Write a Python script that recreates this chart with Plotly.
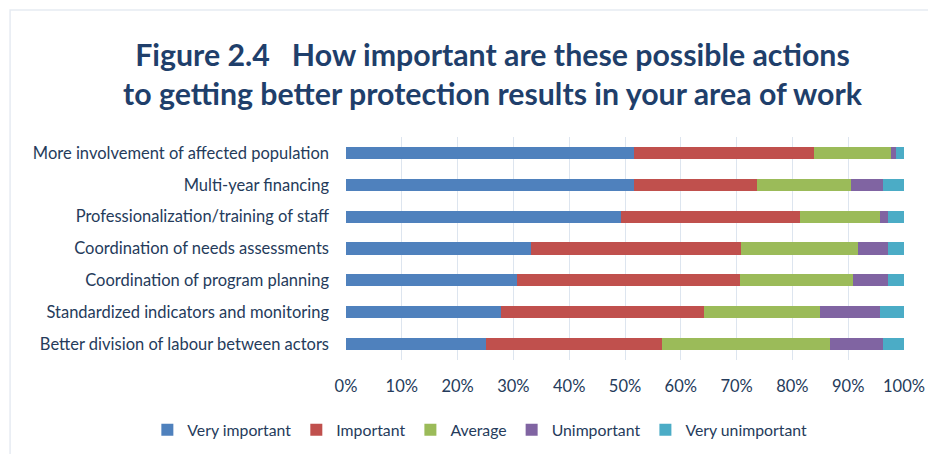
import plotly.graph_objects as go

categories = [
    "More involvement of affected population",
    "Multi-year financing",
    "Professionalization/training of staff",
    "Coordination of needs assessments",
    "Coordination of program planning",
    "Standardized indicators and monitoring",
    "Better division of labour between actors",
]
very_important = [51.7, 51.7, 49.2, 33.2, 30.7, 27.8, 25.0]
important = [32.1, 22.0, 32.1, 37.6, 39.9, 36.4, 31.6]
average = [13.9, 16.8, 14.4, 20.9, 20.3, 20.8, 30.2]
unimportant = [0.8, 5.7, 1.4, 5.4, 6.2, 10.7, 9.4]
very_unimportant = [1.5, 3.8, 2.9, 2.9, 2.9, 4.3, 3.8]

series = [
    ("Very important", very_important, "#4F81BD"),
    ("Important", important, "#C0504D"),
    ("Average", average, "#9BBB59"),
    ("Unimportant", unimportant, "#8064A2"),
    ("Very unimportant", very_unimportant, "#4BACC6"),
]
tick_vals = [0, 10, 20, 30, 40, 50, 60, 70, 80, 90, 100]
tick_text = [f"{v}%" for v in tick_vals]

FONT = "Lato"
TEXT_COLOR = "#253B5B"

fig = go.Figure()
for name, vals, color in series:
    fig.add_trace(go.Bar(
        name=name, y=categories, x=vals, orientation="h",
        marker=dict(color=color, line=dict(width=0)),
    ))

# page body has an 8px default margin, so the figure is 8px smaller
fig.update_layout(
    width=928, height=446,
    barmode="stack", bargap=0.62,
    paper_bgcolor="white", plot_bgcolor="white",
    margin=dict(l=338, r=32, t=129, b=94, autoexpand=False),
    font=dict(family=FONT, size=16.5, color=TEXT_COLOR),
    showlegend=True,
    legend=dict(
        orientation="h",
        x=-0.356, xanchor="left", y=-0.314, yanchor="middle",
        font=dict(family=FONT, size=15.8, color=TEXT_COLOR),
        traceorder="normal", itemwidth=30,
    ),
    xaxis=dict(
        range=[0, 100], tickvals=tick_vals, ticktext=tick_text,
        showgrid=True, gridcolor="#DDE5EF", gridwidth=1,
        zeroline=False, showline=False, ticks="", automargin=False,
        ticklabelstandoff=14,
        tickfont=dict(family=FONT, size=16.5, color=TEXT_COLOR),
    ),
    yaxis=dict(
        autorange="reversed", showgrid=False, showline=False, ticks="",
        automargin=False, ticklabelstandoff=16,
        tickfont=dict(family=FONT, size=16.5, color=TEXT_COLOR),
    ),
    annotations=[dict(
        text="<b>Figure 2.4   How important are these possible actions<br>to getting better protection results in your area of work</b>",
        xref="paper", yref="paper", x=0.2634, y=1.2848, xanchor="center", yanchor="middle",
        showarrow=False, align="center",
        font=dict(family=FONT, size=30.3, color="#1F3F6B"),
    )],
    shapes=[dict(
        type="rect", xref="paper", yref="paper",
        x0=-0.602, x1=1.2, y0=-0.6, y1=1.5695,
        line=dict(color="#E6EBF2", width=1.5), fillcolor="rgba(0,0,0,0)", layer="below",
    )],
)

fig.write_html("out.html")
